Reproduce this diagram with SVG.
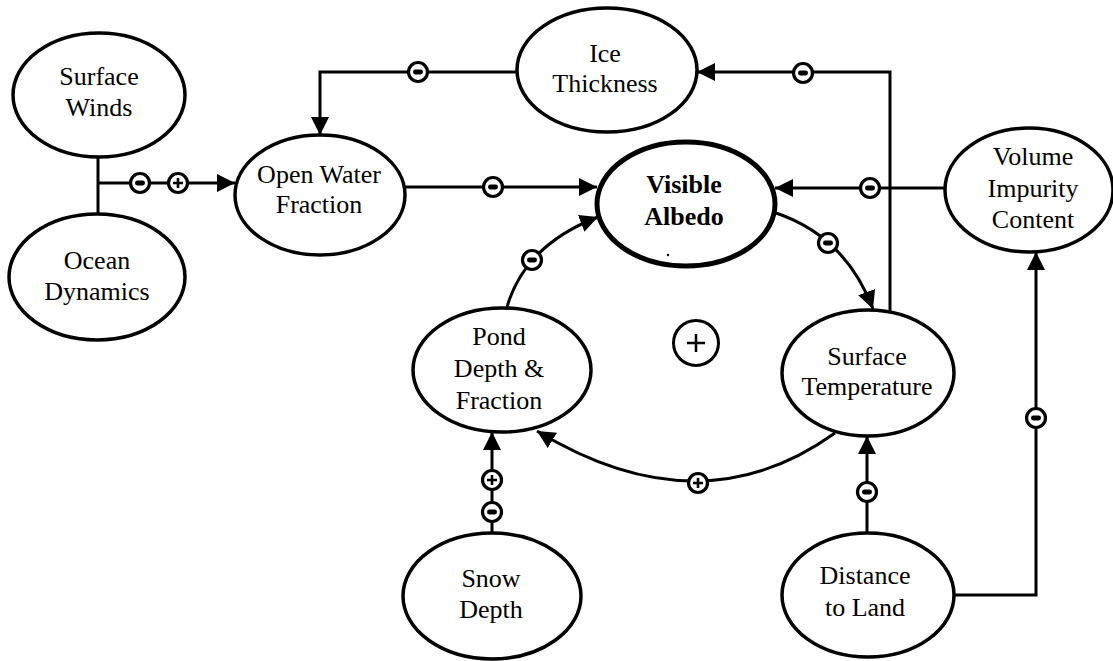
<svg xmlns="http://www.w3.org/2000/svg" width="1113" height="661" viewBox="0 0 1113 661">
  <style>
    .node { fill: #fff; stroke: #000; stroke-width: 3.5; }
    .main { stroke-width: 5; }
    .lbl { font-family: 'Liberation Serif', 'Times New Roman', serif; font-size: 26px; fill: #000; text-anchor: middle; }
    .bold { font-weight: bold; }
    .wire { fill: none; stroke: #000; stroke-width: 3; }
    .arr { marker-end: url(#head); }
    .ring { fill: #fff; stroke: #000; stroke-width: 3.2; }
    .bar { fill: #000; }
    .cross { stroke: #000; stroke-width: 2.6; fill: none; }
  </style>
  <defs>
    <marker id="head" markerUnits="userSpaceOnUse" markerWidth="20" markerHeight="20" refX="18" refY="9" orient="auto" viewBox="0 0 20 18">
      <path d="M0,0 L18,9 L0,18 Z" fill="#000"/>
    </marker>
    <!-- negative link polarity -->
    <g id="neg">
      <circle class="ring" r="9.5"/>
      <rect class="bar" x="-5" y="-2.4" width="10" height="4.8" rx="2.4"/>
    </g>
    <!-- positive link polarity -->
    <g id="pos">
      <circle class="ring" r="9.5"/>
      <path class="cross" d="M-5,0 H5 M0,-5 V5"/>
    </g>
  </defs>

  <!-- connectors -->
  <g id="connectors">
    <!-- winds / ocean junction to open water -->
    <path class="wire" d="M98,157 V214"/>
    <path class="wire arr" d="M98,183 H235"/>
    <!-- ice thickness to open water -->
    <path class="wire arr" d="M517,72 H320 V135"/>
    <!-- surface temperature to ice thickness -->
    <path class="wire arr" d="M890,312 V72 H697"/>
    <!-- open water to albedo -->
    <path class="wire arr" d="M405,187 H597"/>
    <!-- volume impurity to albedo -->
    <path class="wire arr" d="M945,188 H775"/>
    <!-- albedo to surface temperature -->
    <path class="wire arr" d="M773,212 Q845,235 873,309"/>
    <!-- pond to albedo -->
    <path class="wire arr" d="M507,307 Q525,245 598,217"/>
    <!-- surface temperature to pond -->
    <path class="wire arr" d="M835,433 Q700,530 537,431"/>
    <!-- snow depth to pond -->
    <path class="wire arr" d="M492,533 V432"/>
    <!-- distance to surface temperature -->
    <path class="wire arr" d="M867,532 V436"/>
    <!-- distance to volume impurity -->
    <path class="wire arr" d="M953,595 H1036 V252"/>

    <!-- polarity signs -->
    <use href="#neg" x="140" y="183"/>
    <use href="#pos" x="178" y="183"/>
    <use href="#neg" x="418" y="72"/>
    <use href="#neg" x="803" y="73"/>
    <use href="#neg" x="493" y="187"/>
    <use href="#neg" x="870" y="188"/>
    <use href="#neg" x="828" y="243"/>
    <use href="#neg" x="532" y="260"/>
    <use href="#pos" x="698" y="483"/>
    <use href="#pos" x="492" y="480"/>
    <use href="#neg" x="492" y="512"/>
    <use href="#neg" x="867" y="492"/>
    <use href="#neg" x="1036" y="418"/>

    <!-- loop polarity -->
    <circle cx="696" cy="343" r="22.5" fill="#fff" stroke="#000" stroke-width="3"/>
    <path d="M687,343 H705 M696,334 V352" stroke="#000" stroke-width="2.5"/>
  </g>

  <g id="surface-winds">
    <ellipse class="node" cx="99" cy="95" rx="86" ry="62"/>
    <text class="lbl" x="99" y="85">Surface</text>
    <text class="lbl" x="99" y="116">Winds</text>
  </g>

  <g id="ocean-dynamics">
    <ellipse class="node" cx="97" cy="277" rx="88" ry="63"/>
    <text class="lbl" x="97" y="269">Ocean</text>
    <text class="lbl" x="97" y="300">Dynamics</text>
  </g>

  <g id="open-water-fraction">
    <ellipse class="node" cx="320" cy="195" rx="85" ry="60"/>
    <text class="lbl" x="319" y="183">Open Water</text>
    <text class="lbl" x="319" y="213">Fraction</text>
  </g>

  <g id="ice-thickness">
    <ellipse class="node" cx="607" cy="70" rx="90" ry="62"/>
    <text class="lbl" x="605" y="62">Ice</text>
    <text class="lbl" x="605" y="92">Thickness</text>
  </g>

  <g id="visible-albedo">
    <ellipse class="node main" cx="686" cy="204" rx="89" ry="62"/>
    <text class="lbl bold" x="684" y="193">Visible</text>
    <text class="lbl bold" x="684" y="225">Albedo</text>
    <circle cx="668" cy="255" r="1.2" fill="#000"/>
  </g>

  <g id="volume-impurity-content">
    <ellipse class="node" cx="1029" cy="190" rx="84" ry="62"/>
    <text class="lbl" x="1033" y="165">Volume</text>
    <text class="lbl" x="1033" y="197">Impurity</text>
    <text class="lbl" x="1033" y="228">Content</text>
  </g>

  <g id="surface-temperature">
    <ellipse class="node" cx="868" cy="373" rx="86" ry="63"/>
    <text class="lbl" x="867" y="365">Surface</text>
    <text class="lbl" x="867" y="395">Temperature</text>
  </g>

  <g id="pond-depth-fraction">
    <ellipse class="node" cx="502" cy="370" rx="89" ry="62"/>
    <text class="lbl" x="499" y="345">Pond</text>
    <text class="lbl" x="499" y="377">Depth &amp;</text>
    <text class="lbl" x="499" y="409">Fraction</text>
  </g>

  <g id="snow-depth">
    <ellipse class="node" cx="492" cy="596" rx="89" ry="63"/>
    <text class="lbl" x="491" y="587">Snow</text>
    <text class="lbl" x="491" y="618">Depth</text>
  </g>

  <g id="distance-to-land">
    <ellipse class="node" cx="868" cy="595" rx="86" ry="62"/>
    <text class="lbl" x="865" y="584">Distance</text>
    <text class="lbl" x="865" y="616">to Land</text>
  </g>
</svg>
